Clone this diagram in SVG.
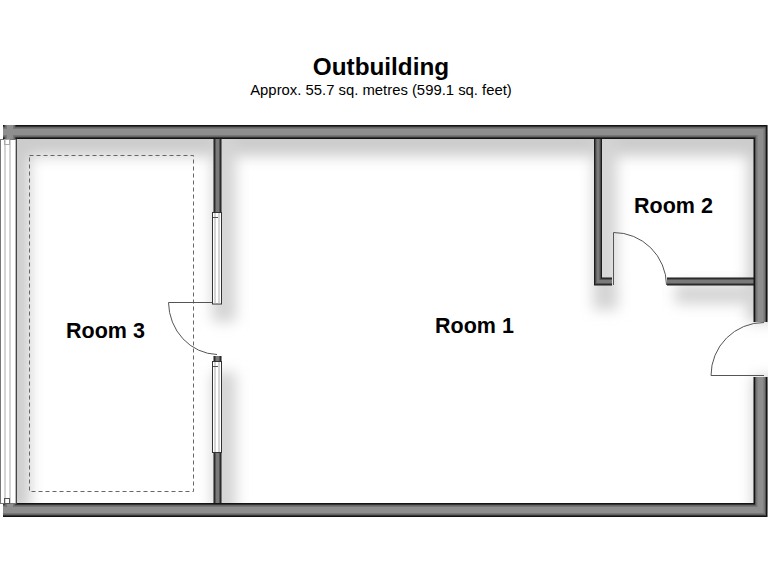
<svg xmlns="http://www.w3.org/2000/svg" width="768" height="576" viewBox="0 0 768 576">
<style>
text{font-family:"Liberation Sans",Arial,sans-serif;fill:#000;text-anchor:middle}
.t{font-size:24.3px;font-weight:700}
.s{font-size:14.85px}
.r{font-size:21.5px;font-weight:700}
.w{fill:none;stroke-linejoin:miter;stroke-linecap:butt}
.o1{stroke:#141414;stroke-width:14}
.o2{stroke:#555;stroke-width:11}
.o3{stroke:#777;stroke-width:9}
.o4{stroke:#8e8e8e;stroke-width:6}
.i1{stroke:#1c1c1c;stroke-width:8}
.i2{stroke:#555;stroke-width:5.500}
.i3{stroke:#7a7a7a;stroke-width:3}
.g{fill:#fff;stroke:#333;stroke-width:1}
.l{fill:none;stroke:#aaa;stroke-width:1}
.d{fill:none;stroke:#555;stroke-width:1}
</style>
<defs>
<filter id="b" x="-20%" y="-20%" width="140%" height="140%"><feGaussianBlur stdDeviation="7"/></filter>
<clipPath id="c"><rect x="3" y="125" width="765" height="392"/></clipPath>
<path id="outer" d="M3 132H760.500V322M760.500 377V510H3M10 510V125"/>
<path id="inner" d="M217.500 132V212M217.500 356V361M217.500 452V510M598 132V281.500H612M667 281.500H760"/>
</defs>
<rect width="768" height="576" fill="#fff"/>
<g id="shadow" clip-path="url(#c)">
<g filter="url(#b)" fill="none" stroke="#cccccc">
<path d="M10 140H764V322" stroke-width="32"/>
<path d="M12 132V510" stroke-width="36"/>
<path d="M765 377V510" stroke-width="24"/>
</g>
<g filter="url(#b)" fill="none" stroke="#d4d4d4">
<path d="M224 132V322" stroke-width="24"/>
<path d="M224 372V515" stroke-width="24"/>
<path d="M605 132V298H618" stroke-width="24"/>
<path d="M675 294H760" stroke-width="20"/>
</g>
</g>
<g id="room-3-platform"><rect x="29.500" y="155.500" width="164" height="336" fill="none" stroke="#666" stroke-width="1" stroke-dasharray="4 3"/></g>
<g id="walls">
<use href="#inner" class="w i1"/><use href="#inner" class="w i2"/><use href="#inner" class="w i3"/>
<use href="#outer" class="w o1"/><use href="#outer" class="w o2"/><use href="#outer" class="w o3"/><use href="#outer" class="w o4"/>
</g>
<g id="window-west">
<rect x="0.500" y="139.500" width="15.500" height="364" fill="#fff" stroke="#777"/>
<path d="M5 140V503M10 140V503" class="l"/>
<rect x="4.500" y="139.500" width="5" height="5" class="l"/>
<rect x="4.500" y="498.500" width="5" height="5" class="d"/>
</g>
<g id="window-upper">
<rect x="212.500" y="212.500" width="9" height="91.500" class="g"/>
<path d="M215 213V304M219 213V304" class="l"/>
<path d="M213 217.500H218" class="d"/>
</g>
<g id="window-lower">
<rect x="212.500" y="361.500" width="9" height="91" class="g"/>
<path d="M215 362V452M219 362V452" class="l"/>
<path d="M213 366.500H218" class="d"/>
</g>
<g id="door-room-3"><path d="M212 302.500H168.500A50 53 0 0 0 217 354.500" class="d"/></g>
<g id="door-room-2"><path d="M613.500 285V232.500A53 53 0 0 1 666.500 285" class="d"/></g>
<g id="door-external"><path d="M764 322.500A53 53 0 0 0 711 375.500H764" class="d"/></g>
<text x="381" y="75" class="t">Outbuilding</text>
<text x="381" y="95" class="s">Approx. 55.7 sq. metres (599.1 sq. feet)</text>
<g id="room-1"><text x="474.500" y="333" class="r">Room 1</text></g>
<g id="room-2"><text x="673.500" y="213" class="r">Room 2</text></g>
<g id="room-3"><text x="105.500" y="338" class="r">Room 3</text></g>
</svg>
